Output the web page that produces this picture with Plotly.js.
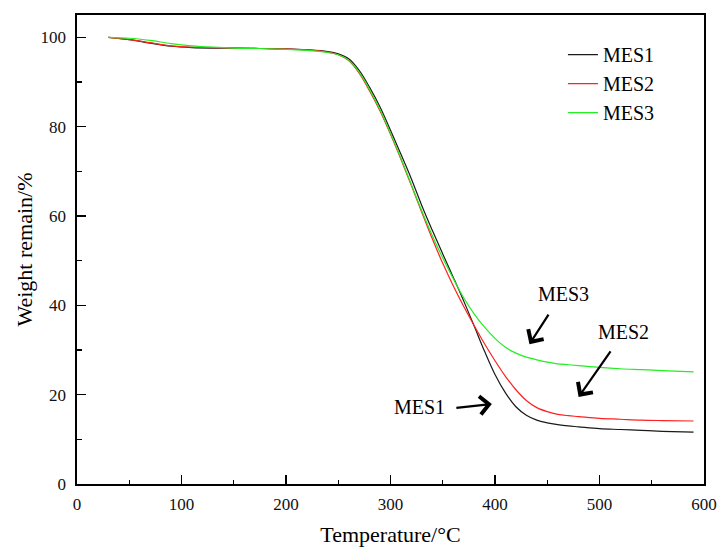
<!DOCTYPE html>
<html>
<head>
<meta charset="utf-8">
<script src="https://cdn.plot.ly/plotly-3.0.1.min.js"></script>
<style>
  html, body { margin: 0; padding: 0; background: #fff; }
  #chart { width: 717px; height: 547px; }
</style>
</head>
<body>
<div id="chart"></div>
<script>
// TGA curves: residual weight (%) against temperature (°C)
const temperature = [30, 50, 70, 90, 110, 130, 150, 175, 200, 220, 240, 250, 260, 270, 280, 290, 300, 310, 320, 330,
                     340, 350, 360, 370, 380, 390, 400, 410, 420, 430, 440, 450, 460, 470, 480, 500, 520, 540, 560, 590];

const mes1 = [100.0, 99.5, 98.7, 98.0, 97.7, 97.6, 97.6, 97.5, 97.4, 97.2, 96.8, 96.3, 95.2, 92.6, 88.8, 84.4, 79.2, 73.8, 68.3, 62.3,
              56.8, 51.5, 46.3, 41.0, 35.4, 29.7, 24.5, 20.4, 17.3, 15.4, 14.3, 13.7, 13.3, 13.0, 12.8, 12.4, 12.2, 12.0, 11.8, 11.6];

const mes2 = [100.0, 99.5, 98.8, 98.1, 97.8, 97.7, 97.6, 97.5, 97.4, 97.2, 96.7, 96.1, 94.8, 92.0, 88.0, 83.5, 78.3, 72.7, 66.8, 60.8,
              54.9, 49.4, 44.4, 39.8, 35.5, 31.4, 27.6, 24.1, 21.1, 18.7, 17.1, 16.2, 15.6, 15.3, 15.1, 14.7, 14.5, 14.3, 14.2, 14.1];

const mes3 = [100.0, 99.8, 99.3, 98.6, 98.1, 97.8, 97.6, 97.5, 97.3, 97.1, 96.6, 96.1, 94.9, 92.2, 88.3, 83.8, 78.5, 72.9, 67.0, 61.1,
              55.6, 50.6, 46.0, 41.7, 38.1, 35.1, 32.6, 30.6, 29.3, 28.4, 27.8, 27.3, 26.9, 26.7, 26.5, 26.1, 25.8, 25.6, 25.4, 25.1];

const seriesNames = ['MES1', 'MES2', 'MES3'];
const seriesColors = ['#1a1a1a', '#ff2020', '#22ee22'];

// callout labels with arrows: [label, tipX, tipY, tailDx, tailDy, textX, textY]
const callouts = [
  ['MES3', 433, 31.3, 20, -31, 466, 42.5],
  ['MES2', 480, 19.5, 33, -47, 523, 34.0],
  ['MES1', 397, 17.9, -37, 4, 328, 17.2]
];

const serif = 'Liberation Serif';

const traces = [mes1, mes2, mes3].map((ys, i) => ({
  type: 'scatter',
  mode: 'lines',
  name: seriesNames[i],
  x: temperature,
  y: ys,
  line: { color: seriesColors[i], width: 1.2, shape: 'spline', smoothing: 1 }
}));

const annotations = [];
callouts.forEach(c => {
  annotations.push({
    x: c[1], y: c[2], xref: 'x', yref: 'y',
    ax: c[3], ay: c[4], axref: 'pixel', ayref: 'pixel',
    text: '', showarrow: true,
    arrowhead: 4, arrowsize: 1.6, arrowwidth: 2.2, arrowcolor: '#000'
  });
  annotations.push({
    x: c[5], y: c[6], xref: 'x', yref: 'y',
    text: c[0], showarrow: false,
    font: { family: serif, size: 20, color: '#000' }
  });
});

const axisCommon = {
  showline: true, mirror: true, linecolor: '#000', linewidth: 1.6,
  showgrid: false, zeroline: false,
  ticks: 'inside', ticklen: 9, tickwidth: 1.4, tickcolor: '#000',
  tickfont: { family: serif, size: 17, color: '#111' }
};

const layout = {
  width: 717, height: 547,
  margin: { l: 77, r: 13, t: 15, b: 63 },
  font: { family: serif, color: '#000' },
  paper_bgcolor: '#fff', plot_bgcolor: '#fff',
  showlegend: true,
  legend: {
    x: 0.775, y: 0.957, xanchor: 'left', yanchor: 'top',
    bgcolor: 'rgba(0,0,0,0)',
    font: { family: serif, size: 20, color: '#000' },
    tracegroupgap: 0
  },
  xaxis: Object.assign({}, axisCommon, {
    range: [0, 600], dtick: 100, tick0: 0,
    minor: { ticks: 'inside', ticklen: 4.5, tickwidth: 1.2, tickcolor: '#000', dtick: 50 },
    ticklabelstandoff: 4,
    title: { text: 'Temperature/°C', font: { family: serif, size: 22, color: '#000' }, standoff: 14 }
  }),
  yaxis: Object.assign({}, axisCommon, {
    range: [0, 105], dtick: 20, tick0: 0,
    minor: { ticks: 'inside', ticklen: 4.5, tickwidth: 1.2, tickcolor: '#000', dtick: 10 },
    ticklabelstandoff: 6,
    title: { text: 'Weight remain/%', font: { family: serif, size: 22, color: '#000' }, standoff: 2 }
  }),
  annotations: annotations
};

Plotly.newPlot('chart', traces, layout, { displayModeBar: false, staticPlot: true });
</script>
</body>
</html>
